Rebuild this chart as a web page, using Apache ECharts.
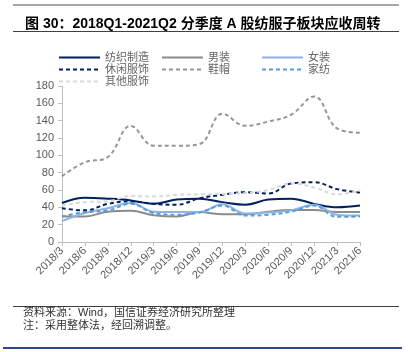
<!DOCTYPE html>
<html>
<head>
<meta charset="utf-8">
<script src="https://cdn.jsdelivr.net/npm/echarts@6/dist/echarts.min.js"></script>
<style>
  html, body { margin: 0; padding: 0; background: #fff; }
  #chart { width: 410px; height: 352px; }
</style>
</head>
<body>
<div id="chart"></div>
<script>
const quarters = ['2018/3', '2018/6', '2018/9', '2018/12', '2019/3', '2019/6', '2019/9',
  '2019/12', '2020/3', '2020/6', '2020/9', '2020/12', '2021/3', '2021/6'];

// 各子板块应收周转（天）
const textile = [45, 51, 50, 48, 44, 49, 50, 46, 43, 49, 50, 44, 40, 42];
const menswear = [29.5, 29.5, 35, 36, 31, 29.5, 34.5, 32, 32, 35, 37, 37, 34.5, 34.5];
const womenswear = [24, 33.5, 39, 45, 35, 34.5, 34.5, 43.5, 33, 34, 36.5, 43, 31.5, 30.5];
const casual = [39, 36.5, 44, 47, 44, 43, 50.5, 54.5, 57.5, 56, 67.5, 69, 61, 57];
const shoes = [76, 92, 98, 134, 111, 111, 113, 148, 134, 139, 147, 168, 131, 126];
const homeTextile = [29.5, 34.5, 36.5, 44, 33.5, 31.5, 34, 42, 30.5, 31.5, 35, 42, 29, 29.5];
const others = [42, 46, 47, 53, 52.5, 54.5, 55, 55.5, 56.5, 60, 67.5, 63, 55, 59.5];

const yTicks = [0, 20, 40, 60, 80, 100, 120, 140, 160, 180];

const chart = echarts.init(document.getElementById('chart'), null, { renderer: 'canvas' });

const labelColor = '#595959';
const axisColor = '#bfbfbf';
const cjk = 'Liberation Sans, Noto Sans CJK SC, sans-serif';

function makeSeries(name, data, color, dashed) {
  return {
    name: name,
    type: 'line',
    data: data,
    smooth: 0.4,
    symbol: 'none',
    lineStyle: { color: color, width: 2, type: dashed ? [4, 3] : 'solid' },
    itemStyle: { color: color }
  };
}

// 图例分三列，只画线不画圆点
function makeLegend(names, left) {
  return {
    orient: 'vertical',
    left: left,
    top: 47,
    itemWidth: 41,
    itemHeight: 8,
    itemGap: 1,
    data: names,
    itemStyle: { opacity: 0 },
    textStyle: { color: '#666', fontSize: 11, fontFamily: cjk, lineHeight: 11 }
  };
}

const option = {
  animation: false,
  backgroundColor: '#fff',
  title: {
    text: '图 30：2018Q1-2021Q2 分季度 A 股纺服子板块应收周转',
    left: 20,
    top: 12,
    textStyle: { fontSize: 14, fontWeight: 'bold', color: '#000', fontFamily: cjk }
  },
  legend: [
    makeLegend(['纺织制造', '休闲服饰', '其他服饰'], 53),
    makeLegend(['男装', '鞋帽'], 156),
    makeLegend(['女装', '家纺'], 256)
  ],
  grid: { left: 62, right: 50, top: 86, bottom: 110 },
  xAxis: {
    type: 'category',
    data: quarters,
    boundaryGap: false,
    axisLine: { lineStyle: { color: axisColor, width: 1 } },
    axisTick: { show: true, length: 4, interval: 0, lineStyle: { color: axisColor } },
    axisLabel: { rotate: 45, interval: 0, margin: 7, color: labelColor, fontSize: 11, fontFamily: 'Liberation Sans' },
    splitLine: { show: false }
  },
  yAxis: {
    type: 'value',
    min: yTicks[0],
    max: yTicks[yTicks.length - 1],
    interval: 20,
    axisLine: { show: true, lineStyle: { color: axisColor, width: 1 } },
    axisTick: { show: true, length: 4, lineStyle: { color: axisColor } },
    axisLabel: { color: labelColor, fontSize: 11, margin: 8, fontFamily: 'Liberation Sans' },
    splitLine: { show: false }
  },
  series: [
    makeSeries('纺织制造', textile, '#002060', false),
    makeSeries('男装', menswear, '#8c8c8c', false),
    makeSeries('女装', womenswear, '#8eb4e3', false),
    makeSeries('休闲服饰', casual, '#002060', true),
    makeSeries('鞋帽', shoes, '#969696', true),
    makeSeries('家纺', homeTextile, '#5b9bd5', true),
    makeSeries('其他服饰', others, '#d9d9d9', true)
  ],
  graphic: [
    // 页眉、页脚的装饰线
    { type: 'line', shape: { x1: 13, y1: 5, x2: 399, y2: 5 }, style: { stroke: '#a6a6a6', lineWidth: 2 } },
    { type: 'line', shape: { x1: 13, y1: 31.5, x2: 399, y2: 31.5 }, style: { stroke: '#404040', lineWidth: 1 } },
    { type: 'line', shape: { x1: 13, y1: 306.5, x2: 399, y2: 306.5 }, style: { stroke: '#404040', lineWidth: 1 } },
    { type: 'line', shape: { x1: 3, y1: 348, x2: 402, y2: 348 }, style: { stroke: '#2f4a82', lineWidth: 2 } },
    {
      type: 'text', left: 23, top: 307,
      style: { text: '资料来源：Wind，国信证券经济研究所整理', fontSize: 11, fill: '#333', fontFamily: cjk }
    },
    {
      type: 'text', left: 23, top: 320,
      style: { text: '注：采用整体法，经回溯调整。', fontSize: 11, fill: '#333', fontFamily: cjk }
    }
  ]
};

chart.setOption(option);
</script>
</body>
</html>
